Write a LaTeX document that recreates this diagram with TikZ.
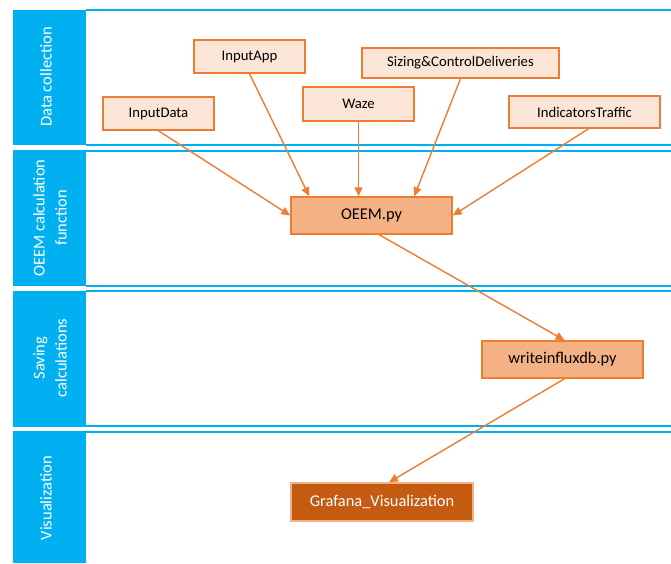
\documentclass[tikz,border=0pt]{standalone}
\usepackage{fontspec}
\setmainfont{Carlito}
\usetikzlibrary{arrows.meta}
\definecolor{laneblue}{HTML}{00B0F0}
\definecolor{orline}{HTML}{ED7D31}
\definecolor{peach}{HTML}{FBE5D6}
\definecolor{midor}{HTML}{F4B183}
\definecolor{darkor}{HTML}{C55A11}
\tikzset{
  lanebar/.style={fill=laneblue, draw=none},
  laneline/.style={draw=laneblue, line width=1.6pt},
  lanelabel/.style={text=white, rotate=90, align=center, inner sep=0pt,
    font=\fontsize{16.5}{22}\selectfont},
  srcbox/.style={draw=orline, fill=peach, line width=1.5pt, rectangle, inner sep=0pt,
    font=\fontsize{14.7}{16}\selectfont},
  procbox/.style={draw=orline, fill=midor, line width=1.5pt, rectangle, inner sep=0pt,
    font=\fontsize{16.4}{18}\selectfont},
  vizbox/.style={draw=midor, fill=darkor, text=white, line width=1.5pt, rectangle, inner sep=0pt,
    font=\fontsize{16.4}{18}\selectfont},
  flow/.style={draw=orline, line width=1.4pt, -{Triangle[length=9pt,width=8pt]}}
}
\begin{document}
\begin{tikzpicture}[x=1pt,y=-1pt]
\useasboundingbox (0,0) rectangle (671,563);
% lanes
\fill[lanebar] (13,10) rectangle (86,145);
\fill[lanebar] (13,150) rectangle (86,286);
\fill[lanebar] (13,291) rectangle (86,427);
\fill[lanebar] (13,431) rectangle (86,563);
\draw[laneline] (86,10) -- (671,10);
\draw[laneline] (86,145) -- (671,145);
\draw[laneline] (86,151) -- (671,151);
\draw[laneline] (86,286) -- (671,286);
\draw[laneline] (86,291) -- (671,291);
\draw[laneline] (86,426) -- (671,426);
\draw[laneline] (86,432) -- (671,432);
\node[lanelabel] (l1) at (46,77) {Data collection};
\node[lanelabel] (l2) at (50,218) {OEEM calculation\\function};
\node[lanelabel] (l3) at (50,358) {Saving\\calculations};
\node[lanelabel] (l4) at (46,498) {Visualization};
% boxes
\node[srcbox, minimum width=111pt, minimum height=33pt] (indata) at (158.5,113.5) {InputData};
\node[srcbox, minimum width=111pt, minimum height=33pt] (inapp) at (249.5,56.5) {InputApp};
\node[srcbox, minimum width=111pt, minimum height=34pt] (waze) at (358.5,104) {Waze};
\node[srcbox, minimum width=197pt, minimum height=30pt] (sizing) at (460.5,63) {Sizing\&ControlDeliveries};
\node[srcbox, minimum width=151pt, minimum height=32pt] (ind) at (584.5,112) {IndicatorsTraffic};
\node[procbox, minimum width=161pt, minimum height=37pt] (oeem) at (371.5,215.5) {OEEM.py};
\node[procbox, minimum width=161pt, minimum height=37pt] (wdb) at (562.5,359.5) {writeinfluxdb.py};
\node[vizbox, minimum width=182pt, minimum height=38pt] (graf) at (382,502) {Grafana\_Visualization};
% connectors
\draw[flow] (indata.south) -- (oeem.west);
\draw[flow] (inapp.south) -- ([xshift=19pt]oeem.north west);
\draw[flow] (waze.south) -- (waze.south |- oeem.north);
\draw[flow] (sizing.south) -- ([xshift=124pt]oeem.north west);
\draw[flow] ([xshift=4pt]ind.south) -- (oeem.east);
\draw[flow] ([xshift=89pt]oeem.south west) -- ([xshift=2pt]wdb.north);
\draw[flow] ([xshift=2pt]wdb.south) -- ([xshift=7pt]graf.north);
\end{tikzpicture}
\end{document}
